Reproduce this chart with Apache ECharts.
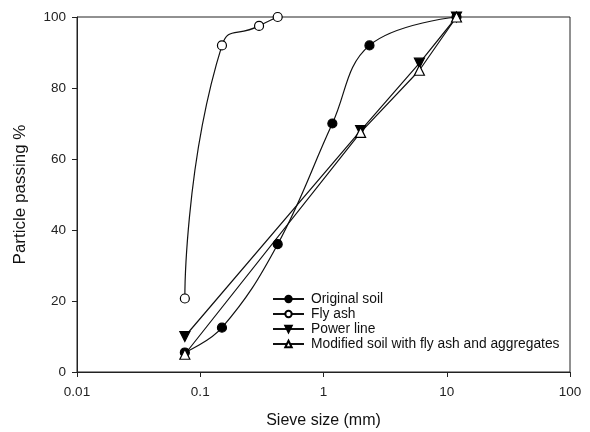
<!DOCTYPE html>
<html>
<head>
<meta charset="utf-8">
<script src="https://cdn.jsdelivr.net/npm/echarts@6/dist/echarts.min.js"></script>
<style>
  html, body { margin: 0; padding: 0; background: #fff; }
  #main { width: 590px; height: 432px; }
</style>
</head>
<body>
<div id="main"></div>
<script>
// 数据
var seriesNames = ['Original soil', 'Fly ash', 'Power line', 'Modified soil with fly ash and aggregates'];
var originalSoil = [[0.075, 5.5], [0.15, 12.5], [0.425, 36], [1.18, 70], [2.36, 92], [12, 100]];
var flyAsh = [[0.075, 20.7], [0.15, 92], [0.3, 97.5], [0.425, 100]];
var powerLine = [[0.075, 10], [2, 68], [6, 87], [12, 100]];
var modifiedSoil = [[0.075, 5], [2, 67.5], [6, 85], [12, 100]];
var yTicks = [0, 20, 40, 60, 80, 100];

var fontName = 'Liberation Sans, Arial, sans-serif';

// 公共系列样式
function makeSeries(name, data, symbol, filled, smooth, rotate) {
  return {
    name: name,
    type: 'line',
    data: data,
    smooth: smooth,
    symbol: symbol,
    symbolSize: symbol === 'circle' ? 9 : 10,
    symbolRotate: rotate || 0,
    showAllSymbol: true,
    lineStyle: { color: '#111', width: 1.2 },
    itemStyle: {
      color: filled ? '#000' : '#fff',
      borderColor: '#000',
      borderWidth: 1.2
    },
    emphasis: { disabled: true },
    z: 3
  };
}

var chart = echarts.init(document.getElementById('main'));
var option = {
  animation: false,
  grid: {
    left: 77,
    right: 20,
    top: 17,
    bottom: 60,
    outerBoundsMode: 'none',
    containLabel: false,
    show: true,
    borderColor: '#222',
    borderWidth: 1
  },
  legend: {
    left: 272,
    top: 292,
    padding: 0,
    orient: 'vertical',
    itemWidth: 31,
    itemHeight: 8,
    itemGap: 1,
    textStyle: { fontFamily: fontName, fontSize: 13.8, color: '#111', padding: [0, 0, 0, 2] },
    data: seriesNames
  },
  xAxis: {
    type: 'log',
    logBase: 10,
    min: 0.01,
    max: 100,
    name: 'Sieve size (mm)',
    nameLocation: 'middle',
    nameGap: 41,
    nameTextStyle: { fontFamily: fontName, fontSize: 16, color: '#111' },
    axisLine: { lineStyle: { color: '#222', width: 1 } },
    axisTick: { show: true, inside: false, length: 5, lineStyle: { color: '#222' } },
    minorTick: { show: false },
    splitLine: { show: false },
    axisLabel: {
      fontFamily: fontName, fontSize: 13.5, color: '#222', margin: 13,
      formatter: function (v) { return String(+v.toPrecision(3)); }
    }
  },
  yAxis: {
    type: 'value',
    min: 0,
    max: 100,
    interval: 20,
    name: 'Particle passing %',
    nameLocation: 'middle',
    nameGap: 48,
    nameTextStyle: { fontFamily: fontName, fontSize: 17, color: '#111' },
    axisLine: { show: true, lineStyle: { color: '#222', width: 1 } },
    axisTick: { show: true, inside: false, length: 5, lineStyle: { color: '#222' } },
    splitLine: { show: false },
    axisLabel: {
      fontFamily: fontName, fontSize: 13.5, color: '#222', margin: 11,
      formatter: function (v) { return yTicks.indexOf(v) >= 0 ? String(v) : ''; }
    }
  },
  series: [
    makeSeries(seriesNames[0], originalSoil, 'circle', true, 0.4),
    makeSeries(seriesNames[1], flyAsh, 'circle', false, 0.6),
    makeSeries(seriesNames[2], powerLine, 'triangle', true, false, 180),
    makeSeries(seriesNames[3], modifiedSoil, 'triangle', false, false)
  ]
};
chart.setOption(option);
</script>
</body>
</html>
